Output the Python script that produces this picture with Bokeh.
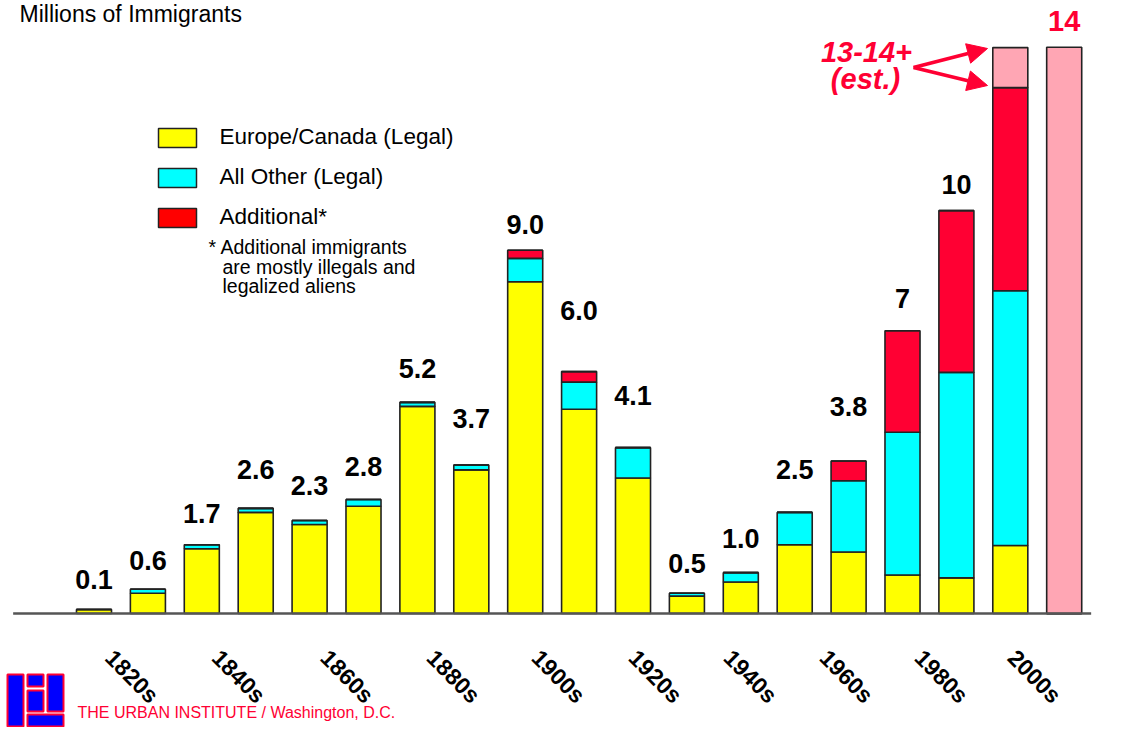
import math
from bokeh.plotting import figure
from bokeh.models import ColumnDataSource, Range1d, Arrow, NormalHead
from bokeh.core.properties import value
from bokeh.embed import file_html
from bokeh.resources import INLINE

# ---------------- data ----------------
decades = ["1820s", "1830s", "1840s", "1850s", "1860s", "1870s", "1880s", "1890s",
           "1900s", "1910s", "1920s", "1930s", "1940s", "1950s", "1960s", "1970s",
           "1980s", "1990s", "2000s"]
europe = [0.10, 0.50, 1.60, 2.50, 2.20, 2.65, 5.12, 3.55, 8.20, 5.05, 3.35, 0.43,
          0.78, 1.70, 1.52, 0.95, 0.88, 1.68, 0.0]
other = [0.0, 0.10, 0.10, 0.10, 0.10, 0.17, 0.10, 0.12, 0.58, 0.67, 0.75, 0.07,
         0.23, 0.80, 1.76, 3.53, 5.08, 6.30, 0.0]
additional = [0.0, 0.0, 0.0, 0.0, 0.0, 0.0, 0.0, 0.0, 0.20, 0.26, 0.0, 0.0,
              0.0, 0.0, 0.49, 2.51, 4.00, 5.02, 0.0]
estimate = [0.0] * 17 + [0.99, 14.0]
value_labels = ["0.1", "0.6", "1.7", "2.6", "2.3", "2.8", "5.2", "3.7", "9.0", "6.0",
                "4.1", "0.5", "1.0", "2.5", "3.8", "7", "10", "", "14"]
tick_labels = decades[::2]
legend_labels = ["Europe/Canada (Legal)", "All Other (Legal)", "Additional*"]
footnote = ["* Additional immigrants", "are mostly illegals and", "legalized aliens"]
title_text = "Millions of Immigrants"
estimate_text = ["13-14+", "(est.)"]
footer_text = "THE URBAN INSTITUTE / Washington, D.C."

# ---------------- layout (pixels) ----------------
W, H = 1114, 727
FX0, DX = 93.5, 53.9      # px of first bar centre, px per bar
Y0, DY = 613.0, 40.45     # px (from top) of baseline, px per million
SH = 10                   # correction for rendered alphabetic baseline
label_dy = [20, 19, 21, 29, 25, 23, 24, 37, 16, 51, 42, 20, 24, 33, 45, 22, 16, 0, 16]
label_dy = [v + SH for v in label_dy]
tick_dx = [38, 37, 37.6, 36.1, 33.3, 22.5, 9.7, -2.1, -14.9, -29.7]

YELLOW, CYAN, RED, PINK = "#FFFF00", "#00FFFF", "#FF0033", "#FFA6B4"
OUTLINE = "#222222"
FONT = value("Liberation Sans")


def px(xr):  # image x pixel -> data x
    return (xr - FX0) / DX


def py(yr):  # image y pixel -> data y
    return (Y0 - yr) / DY


p = figure(width=W, height=H, output_backend="svg", toolbar_location=None,
           x_range=Range1d(-FX0 / DX, (W - FX0) / DX),
           y_range=Range1d(-(H - Y0) / DY, Y0 / DY),
           x_axis_location=None, y_axis_location=None,
           min_border=0, outline_line_color=None)
p.grid.visible = False
p.background_fill_color = "white"
p.border_fill_color = "white"

idx = list(range(len(decades)))
totals = [a + b + c + d for a, b, c, d in zip(europe, other, additional, estimate)]
src = ColumnDataSource(dict(x=idx, europe=europe, other=other, additional=additional,
                            estimate=estimate))

p.vbar_stack(["europe", "other", "additional", "estimate"], x="x", width=0.65,
             source=src, fill_color=[YELLOW, CYAN, RED, PINK],
             line_color=OUTLINE, line_width=1.6)

# baseline axis line
p.segment(x0=[-1.5], y0=[0], x1=[len(decades) - 0.5], y1=[0],
          line_color="#555555", line_width=2.5)

# value labels
black_src = ColumnDataSource(dict(x=idx[:17], y=totals[:17], t=value_labels[:17],
                                  dy=[-v for v in label_dy[:17]]))
p.text(x="x", y="y", text="t", y_offset="dy", source=black_src,
       text_font=FONT, text_font_style="bold", text_font_size="27px",
       text_align="center", text_baseline="alphabetic", text_color="black")
p.text(x=[idx[-1]], y=[totals[-1]], text=[value_labels[-1]], y_offset=-label_dy[-1],
       text_font=FONT, text_font_style="bold", text_font_size="29px",
       text_align="center", text_baseline="alphabetic", text_color=RED)

# rotated decade labels
p.text(x=idx[::2], y=[0] * len(tick_labels), text=tick_labels,
       x_offset=tick_dx, y_offset=63, angle=-math.pi / 4,
       text_font=FONT, text_font_style="bold", text_font_size="23px",
       text_align="center", text_baseline="middle", text_color="black")

# title
p.text(x=[px(19)], y=[py(23 - SH)], text=[title_text], text_font=FONT,
       text_font_size="23px", text_align="left", text_baseline="alphabetic",
       text_color="black")

# legend
box_tops = [128, 168, 208]
for top, col, lab in zip(box_tops, [YELLOW, CYAN, "#FF0000"], legend_labels):
    p.quad(left=[px(158)], right=[px(196)], top=[py(top)], bottom=[py(top + 19)],
           fill_color=col, line_color=OUTLINE, line_width=1.5)
    p.text(x=[px(219)], y=[py(top + 8)], text=[lab], text_font=FONT,
           text_font_size="22.5px", text_align="left", text_baseline="middle",
           text_color="black")

fn_x = [208, 222, 222]
fn_y = [256, 276, 295]
for xx, yy, t in zip(fn_x, fn_y, footnote):
    p.text(x=[px(xx)], y=[py(yy - SH)], text=[t], text_font=FONT, text_font_size="19.5px",
           text_align="left", text_baseline="alphabetic", text_color="black")

# red estimate annotation
p.text(x=[px(866)], y=[py(61 - SH)], text=[estimate_text[0]], text_font=FONT,
       text_font_style="bold italic", text_font_size="29px", text_align="center",
       text_baseline="alphabetic", text_color=RED)
p.text(x=[px(865)], y=[py(88 - SH)], text=[estimate_text[1]], text_font=FONT,
       text_font_style="bold italic", text_font_size="29px", text_align="center",
       text_baseline="alphabetic", text_color=RED)
for ye in [48, 85]:
    p.add_layout(Arrow(end=NormalHead(size=20, fill_color=RED, line_color=RED),
                       x_start=px(913), y_start=py(67), x_end=px(987), y_end=py(ye),
                       line_color=RED, line_width=3.5))

# footer
p.text(x=[px(77)], y=[py(722 - SH)], text=[footer_text], text_font=FONT,
       text_font_size="16px", text_align="left", text_baseline="alphabetic",
       text_color=RED)

# logo
logo = [(7, 23, 674, 726), (27, 43, 674, 686), (27, 43, 690, 711),
        (47, 63, 674, 711), (27, 63, 714, 726)]
p.quad(left=[px(a) for a, b, c, d in logo], right=[px(b) for a, b, c, d in logo],
       top=[py(c) for a, b, c, d in logo], bottom=[py(d) for a, b, c, d in logo],
       fill_color="#0000FF", line_color="#FF0033", line_width=2)

open("out.html", "w").write(file_html(p, INLINE))
